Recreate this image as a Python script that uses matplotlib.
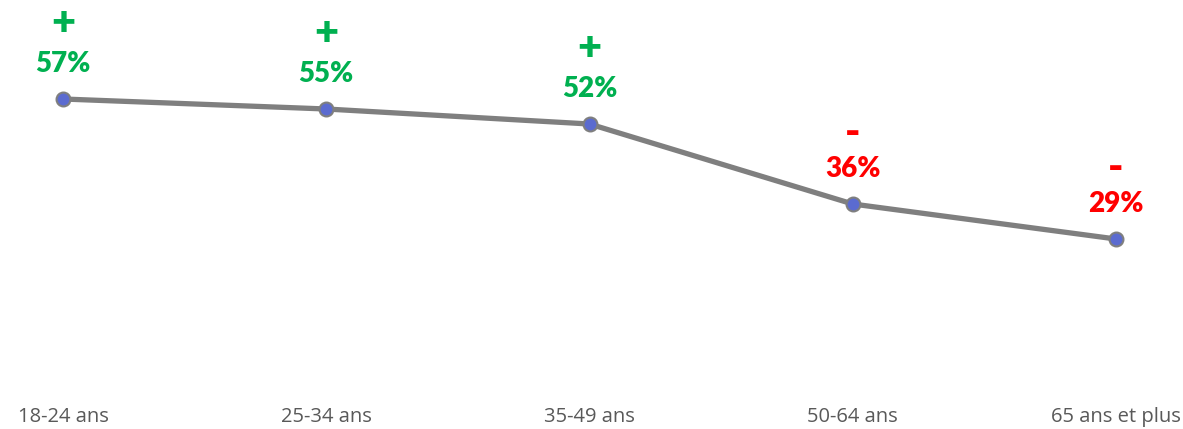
import matplotlib
matplotlib.use("Agg")
import matplotlib.pyplot as plt

categories = ["18-24 ans", "25-34 ans", "35-49 ans", "50-64 ans", "65 ans et plus"]
values = [57, 55, 52, 36, 29]
signs = ["+", "+", "+", "-", "-"]
labels = ["57%", "55%", "52%", "36%", "29%"]

green = "#00B050"
red = "#FF0000"

fig = plt.figure(figsize=(11.83, 4.29), dpi=100)
ax = fig.add_axes([0, 1 - 384 / 429, 1, 384 / 429])
x = list(range(len(categories)))
ax.plot(x, values, color="#7F7F7F", linewidth=3.8, zorder=2, solid_capstyle="round")
ax.plot(x, values, linestyle="none", marker="o", markersize=10,
        markerfacecolor="#5B6BD0", markeredgecolor="#7F7F7F", markeredgewidth=1.5, zorder=3)

for xi, v, s, lab in zip(x, values, signs, labels):
    col = green if s == "+" else red
    ax.annotate(lab, (xi, v), xytext=(0, 25), textcoords="offset points",
                ha="center", va="center", fontsize=20, fontweight="heavy",
                color=col, family="Lato")
    ax.annotate(s, (xi, v), xytext=(0, 55 if s == "+" else 51), textcoords="offset points",
                ha="center", va="center", fontsize=30, fontweight="heavy",
                color=col, family="Lato")

ax.set_xlim(-63 / 263.25, (1183 - 63) / 263.25)
ax.set_ylim(0, 76.8)
ax.axis("off")

for xi, c in zip(x, categories):
    ax.text(xi, -33 / 5, c, ha="center", va="center",
            fontsize=14.5, color="#595959", family="Open Sans")

fig.savefig("out.png", dpi=100)
